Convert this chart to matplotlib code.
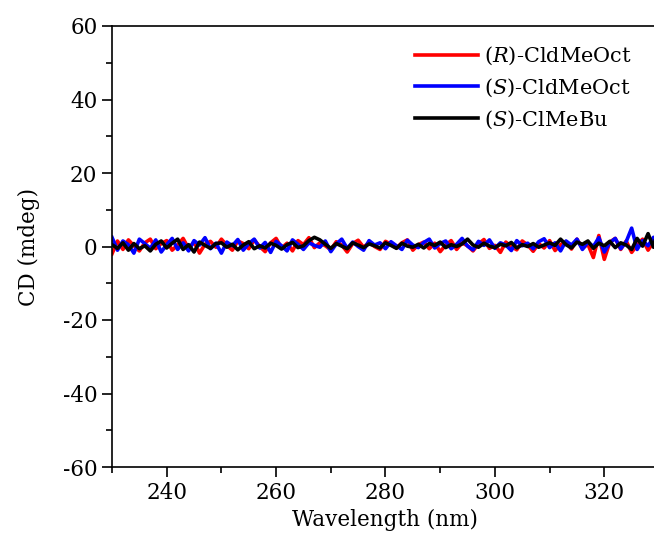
import numpy as np
import matplotlib
matplotlib.use("Agg")
from matplotlib import pyplot as plt
from matplotlib.ticker import MultipleLocator

# === Fonte serifada, parecida com Cambria ===
plt.rcParams['font.family'] = 'DejaVu Serif'
plt.rcParams['mathtext.fontset'] = 'dejavuserif'
plt.rcParams['axes.unicode_minus'] = False

# === Dados (passo de 1 nm) ===
wavelength = np.arange(230, 331, 1)

cd_s_clmebu = [0.5, -0.5, 1.0, -1.0, 0.8, -0.6, 0.2, -1.2, 0.6, 1.5,
               -0.4, 0.9, 2.0, -0.8, 0.5, -1.5, 1.2, 0.3, -0.5, 0.8,
               1.0, -0.2, 0.6, -0.9, 0.4, 1.3, -0.6, 0.2, -0.4, 0.9,
               0.3, -0.7, 0.5, 1.1, -0.3, 0.2, 1.6, 2.5, 1.8, 0.6,
               -0.5, 0.8, 0.1, -0.6, 1.0, 0.4, -0.3, 0.7, 0.2, -0.4,
               1.0, 0.3, -0.5, 0.9, 0.1, -0.2, 0.6, -0.4, 0.8, 0.3,
               1.2, -0.3, 0.5, 0.0, 0.7, 2.0, 0.4, -0.2, 0.9, 0.1,
               -0.3, 0.6, 0.2, 1.1, -0.4, 0.5, 0.0, 0.8, -0.2, 0.4,
               1.0, 0.3, 2.0, 0.5, -0.4, 1.2, 0.6, 1.5, -0.5, 0.9,
               0.2, 1.4, -0.3, 1.0, 0.4, -0.8, 2.2, 0.1, 3.5, -0.2, 6.0]

cd_s_cldmeoct = [2.5, -1.0, 1.5, 0.5, -1.8, 2.0, 0.8, -0.5, 1.8, -1.5,
                 0.5, 2.2, -0.8, 1.0, -1.2, 1.6, 0.4, 2.4, -0.6, 0.9,
                 -1.8, 1.2, 0.2, 1.9, -1.0, 0.8, 2.0, -0.4, 1.1, -1.6,
                 1.4, 0.2, -1.2, 1.8, 0.6, -0.8, 1.0, 0.3, -0.2, 1.5,
                 -1.4, 0.7, 2.0, -0.5, 1.2, 0.0, -1.0, 1.6, 0.4, 1.0,
                 -0.6, 1.3, 0.2, -0.8, 1.7, 0.4, -0.3, 1.1, 2.0, -0.4,
                 0.8, 1.5, -0.6, 0.6, 2.2, 0.1, -0.9, 1.4, 0.3, 1.8,
                 -0.5, 1.0, 0.4, -1.1, 1.6, 0.2, 0.9, -0.6, 1.3, 2.1,
                 -0.3, 1.0, -1.2, 1.5, 0.4, 2.0, -0.8, 1.2, 0.0, 2.4,
                 -1.5, 1.0, 2.2, -0.6, 1.3, 5.0, -0.8, 1.6, 0.2, 2.5, 0.5]

cd_r_cldmeoct = [-2.0, 1.5, -0.8, 1.8, 0.2, -1.2, 1.0, 2.0, -0.6, 0.8,
                 1.6, -1.0, 0.4, 2.2, -0.5, 1.2, -1.8, 0.6, 1.4, -0.2,
                 2.0, 0.3, -1.0, 1.5, 0.8, -0.6, 1.8, 0.0, -1.4, 1.0,
                 2.2, -0.4, 0.9, -1.2, 1.6, 0.5, 2.4, -0.3, 1.0, 0.2,
                 -0.9, 1.3, 0.4, -1.5, 0.8, 1.7, -0.2, 1.1, 0.0, -0.8,
                 1.4, 0.6, -0.4, 1.0, 1.8, -1.0, 0.5, 1.2, -0.6, 0.9,
                 -1.4, 0.4, 1.6, -0.8, 1.0, 0.2, -1.2, 0.7, 1.9, -0.5,
                 0.3, -1.6, 1.2, 0.0, -0.9, 1.5, 0.4, -1.3, 0.8, -0.4,
                 1.6, -1.1, 0.5, 1.3, -0.7, 2.0, -0.5, 0.6, -3.0, 3.0,
                 -3.5, 1.2, 2.2, -0.8, 1.5, -1.6, 0.4, 2.0, -1.0, 1.2, 0.0]

series = [
    (cd_r_cldmeoct, 'red', r'($\mathit{R}$)-CldMeOct'),
    (cd_s_cldmeoct, 'blue', r'($\mathit{S}$)-CldMeOct'),
    (cd_s_clmebu, 'black', r'($\mathit{S}$)-ClMeBu'),
]

# === Figura ===
fig = plt.figure(figsize=(6.54, 5.43), dpi=100)
ax = fig.add_axes([112 / 654, 1 - 467 / 543, 547 / 654, 441 / 543])

for y, cor, nome in series:
    ax.plot(wavelength, y, color=cor, lw=2.6, label=nome)

ax.set_xlim(230, 330)
ax.set_ylim(-60, 60)
ax.xaxis.set_minor_locator(MultipleLocator(10))
ax.yaxis.set_major_locator(MultipleLocator(20))
ax.yaxis.set_minor_locator(MultipleLocator(10))
ax.set_xticks([240, 260, 280, 300, 320])
ax.tick_params(which='major', direction='out', length=7, width=1.2, labelsize=15.5, top=False, right=False)
ax.tick_params(which='minor', direction='out', length=4, width=1.2, top=False, right=False)
for s in ax.spines.values():
    s.set_linewidth(1.2)

ax.set_xlabel('Wavelength (nm)', fontsize=15.5, labelpad=4)
ax.set_ylabel('CD (mdeg)', fontsize=15.5, labelpad=16)

ax.legend(loc='upper right', bbox_to_anchor=(0.985, 1.0), frameon=False, fontsize=15,
          handlelength=3.0, handletextpad=0.3, labelspacing=0.45)

fig.savefig('out.png', dpi=100)
